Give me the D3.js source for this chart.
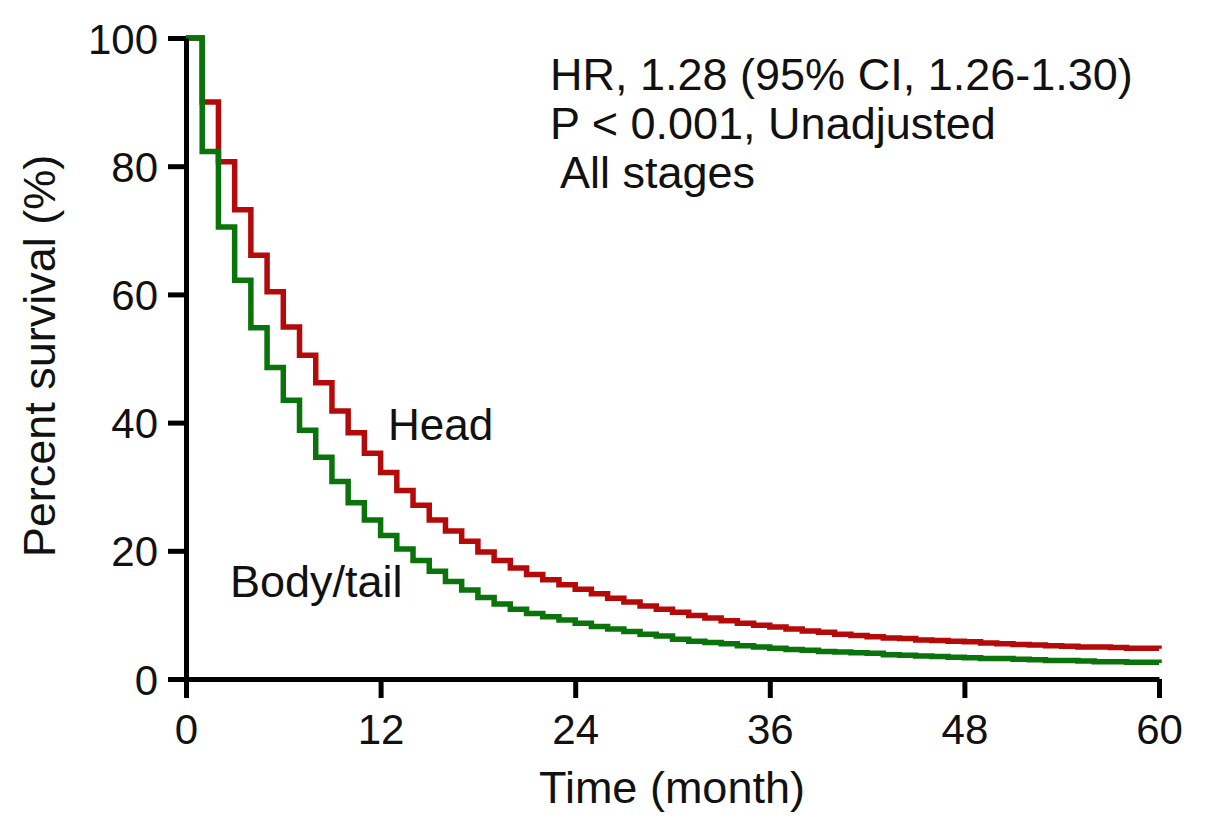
<!DOCTYPE html>
<html>
<head>
<meta charset="utf-8">
<script src="https://cdn.jsdelivr.net/npm/d3@7"></script>
<style>
  html, body { margin: 0; padding: 0; background: #fff; }
  svg { display: block; font-family: "Liberation Sans", Arial, sans-serif; }
</style>
</head>
<body>
<svg id="chart" width="1205" height="829"></svg>
<script>
// Months (step starts) 0..60
const months = d3.range(0, 61);
// Percent survival, Head (value held from month t to t+1)
const headSurvival = [100, 90, 80.7, 73.2, 66.1, 60.4, 54.9, 50.5, 46.2, 41.8,
  38.4, 35.2, 32.2, 29.4, 27.1, 24.8, 23.1, 21.5, 19.8, 18.5,
  17.3, 16.3, 15.5, 14.7, 14.0, 13.3, 12.6, 12.0, 11.4, 10.9,
  10.4, 9.9, 9.5, 9.1, 8.7, 8.4, 8.1, 7.8, 7.5, 7.3,
  7.0, 6.8, 6.6, 6.4, 6.3, 6.1, 6.0, 5.9, 5.8, 5.6,
  5.5, 5.4, 5.3, 5.2, 5.1, 5.0, 5.0, 4.9, 4.8, 4.8, 4.7];
// Percent survival, Body/tail
const bodyTailSurvival = [100, 82.3, 70.5, 62.2, 54.8, 48.6, 43.5, 38.8, 34.6, 30.8,
  27.5, 24.8, 22.4, 20.3, 18.5, 16.8, 15.2, 13.9, 12.7, 11.7,
  10.9, 10.2, 9.7, 9.2, 8.7, 8.2, 7.8, 7.4, 7.0, 6.7,
  6.2, 5.9, 5.7, 5.5, 5.2, 5.0, 4.8, 4.6, 4.5, 4.3,
  4.2, 4.1, 4.0, 3.8, 3.7, 3.6, 3.5, 3.4, 3.3, 3.2,
  3.2, 3.1, 3.0, 2.9, 2.9, 2.8, 2.7, 2.7, 2.6, 2.6, 2.5];
const xTicks = [0, 12, 24, 36, 48, 60];
const yTicks = [0, 20, 40, 60, 80, 100];
const annotationLines = ["HR, 1.28 (95% CI, 1.26-1.30)", "P < 0.001, Unadjusted", " All stages"];

const svg = d3.select("#chart");
const x = d3.scaleLinear().domain([0, 60]).range([186, 1159]);
const y = d3.scaleLinear().domain([0, 100]).range([679, 38]);

const line = d3.line()
  .x((d, i) => x(months[i]))
  .y(d => y(d))
  .curve(d3.curveStepAfter);

svg.append("path").datum(headSurvival)
  .attr("d", line).attr("fill", "none")
  .attr("stroke", "#b40a0a").attr("stroke-width", 5.5);
svg.append("path").datum(bodyTailSurvival)
  .attr("d", line).attr("fill", "none")
  .attr("stroke", "#0b730b").attr("stroke-width", 5.5);

// Axes
const xAxis = svg.append("g").attr("transform", `translate(0,${y(0)})`)
  .call(d3.axisBottom(x).tickValues(xTicks).tickSize(19).tickPadding(12).tickSizeOuter(0));
const yAxis = svg.append("g").attr("transform", `translate(${x(0)},0)`)
  .call(d3.axisLeft(y).tickValues(yTicks).tickSize(18).tickPadding(10).tickSizeOuter(0));

[xAxis, yAxis].forEach(g => {
  g.select(".domain").attr("stroke", "#000").attr("stroke-width", 5);
  g.selectAll(".tick line").attr("stroke", "#000").attr("stroke-width", 5);
  g.selectAll(".tick text").attr("fill", "#111")
    .style("font-size", "42px").style("font-family", '"Liberation Sans", Arial, sans-serif');
});
xAxis.selectAll(".tick text").attr("dy", "0.8em");
yAxis.selectAll(".tick text").attr("dy", "0.36em");

// Axis titles
svg.append("text").attr("x", 672).attr("y", 803)
  .attr("text-anchor", "middle").style("font-size", "45px").attr("fill", "#111")
  .text("Time (month)");
svg.append("text")
  .attr("transform", "translate(55,356) rotate(-90)")
  .attr("text-anchor", "middle").style("font-size", "45px").attr("fill", "#111")
  .text("Percent survival (%)");

// Annotation
svg.append("g").selectAll("text").data(annotationLines).join("text")
  .attr("x", 550).attr("y", (d, i) => 90 + i * 49)
  .attr("xml:space", "preserve")
  .style("font-size", "45px").attr("fill", "#111")
  .text(d => d);

// Curve labels
svg.append("text").attr("x", 388).attr("y", 440)
  .style("font-size", "44px").attr("fill", "#111").text("Head");
svg.append("text").attr("x", 230).attr("y", 597)
  .style("font-size", "45px").attr("fill", "#111").text("Body/tail");
</script>
</body>
</html>
